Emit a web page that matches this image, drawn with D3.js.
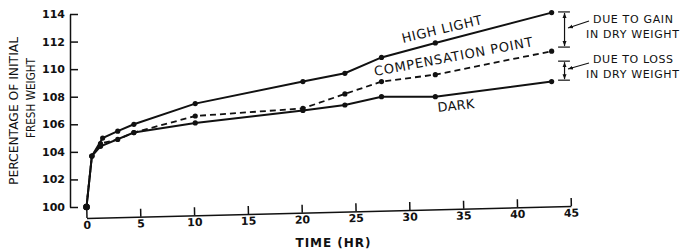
<html lang="en">
<head>
  <meta http-equiv="Content-Type" content="text/html; charset=UTF-8">
  <title>Fresh weight</title>
  <script type="text/javascript" src="https://cdn.jsdelivr.net/npm/d3@7"></script>
  <style type="text/css">
    body { margin: 0; background: #fff; }
    text { font-family: "DejaVu Sans", sans-serif; fill: #111; }
  </style>
</head>
<body>
  <script type="text/javascript">
    // values (hours, % of initial fresh weight)
    var hours_high = [0, 0.5, 1.5, 2.9, 4.4, 10.1, 20.1, 24, 27.4, 32.4, 43.2];
    var high_light = [100, 103.7, 105.0, 105.5, 106.0, 107.5, 109.1, 109.7, 110.85, 111.9, 114.1];
    var hours_comp = [0, 0.5, 1.3, 2.9, 4.4, 10.1, 20.1, 24, 27.4, 32.4, 43.2];
    var compensation = [100, 103.7, 104.6, 104.9, 105.4, 106.6, 107.15, 108.2, 109.1, 109.6, 111.3];
    var hours_dark = [0, 0.5, 1.3, 4.4, 10.1, 20.1, 24, 27.4, 32.4, 43.2];
    var dark = [100, 103.7, 104.4, 105.4, 106.1, 107.0, 107.4, 108.0, 108.0, 109.1];
    var x_ticks = [0, 5, 10, 15, 20, 25, 30, 35, 40, 45];
    var y_ticks = [100, 102, 104, 106, 108, 110, 112, 114];

    var svg = d3.select("body").append("svg").attr("width", 682).attr("height", 250);

    var x = d3.scaleLinear().domain([0, 45]).range([86.5, 571]);
    var y = d3.scaleLinear().domain([100, 114]).range([207, 14]);

    var defs = svg.append("defs");
    defs.append("marker").attr("id", "arr")
      .attr("viewBox", "0 0 10 10").attr("refX", 10).attr("refY", 5)
      .attr("markerWidth", 5).attr("markerHeight", 5)
      .attr("markerUnits", "userSpaceOnUse")
      .attr("orient", "auto-start-reverse")
      .append("path").attr("d", "M0,1 L10,5 L0,9 z").attr("fill", "#111");

    // y axis
    var yAxis = svg.append("g").attr("transform", "translate(70,0)")
      .call(d3.axisLeft(y).tickValues(y_ticks).tickSizeInner(-8).tickSizeOuter(0).tickPadding(5));
    yAxis.selectAll("text").style("font-size", "11px").style("font-weight", "bold")
      .style("font-family", "DejaVu Sans");

    // x axis (slightly tilted like the scan)
    var xAxis = svg.append("g").attr("transform", "translate(0,218) rotate(-1.42 86.5 0)")
      .call(d3.axisBottom(x).tickValues(x_ticks).tickSizeInner(-8).tickSizeOuter(0).tickPadding(3));
    xAxis.selectAll("text").style("font-size", "11px").style("font-weight", "bold")
      .style("font-family", "DejaVu Sans");
    svg.selectAll(".domain, .tick line").attr("stroke", "#111").attr("stroke-width", 1.5);

    function drawSeries(hours, vals, dash) {
      var pts = hours.map(function(h, i) { return [h, vals[i]]; });
      var line = d3.line()
        .x(function(d) { return x(d[0]); })
        .y(function(d) { return y(d[1]); });
      svg.append("path")
        .attr("d", line(pts))
        .attr("fill", "none")
        .attr("stroke", "#111")
        .attr("stroke-width", dash ? 1.8 : 2)
        .attr("stroke-dasharray", dash ? "6,4" : null);
      svg.selectAll(null).data(pts).enter().append("circle")
        .attr("cx", function(d) { return x(d[0]); })
        .attr("cy", function(d) { return y(d[1]); })
        .attr("r", function(d, i) { return i == 0 ? 3.2 : 2.6; })
        .attr("fill", "#111");
    }
    drawSeries(hours_dark, dark, false);
    drawSeries(hours_comp, compensation, true);
    drawSeries(hours_high, high_light, false);

    // series labels
    function label(txt, px, py, ang, len, size) {
      svg.append("text").text(txt)
        .attr("transform", "translate(" + px + "," + py + ") rotate(" + ang + ")")
        .attr("textLength", len).attr("lengthAdjust", "spacing")
        .style("font-size", size + "px");
    }
    label("HIGH LIGHT", 403, 43, -13.4, 82, 13);
    label("COMPENSATION POINT", 375, 76, -10.7, 161, 13);
    label("DARK", 438, 112, -6, 37, 13);

    // brackets on the right
    function bracket(v1, v2) {
      svg.append("line")
        .attr("x1", x(44.4)).attr("x2", x(44.4))
        .attr("y1", y(v1) + 1).attr("y2", y(v2) - 1)
        .attr("stroke", "#111").attr("stroke-width", 1.2)
        .attr("marker-start", "url(#arr)").attr("marker-end", "url(#arr)");
      [v1, v2].forEach(function(v) {
        svg.append("line")
          .attr("x1", x(43.8)).attr("x2", x(44.9))
          .attr("y1", y(v)).attr("y2", y(v))
          .attr("stroke", "#111").attr("stroke-width", 1.2);
      });
    }
    bracket(114.15, 111.6);
    bracket(110.58, 109.2);

    function leader(x1, y1, x2, y2) {
      svg.append("line").attr("x1", x1).attr("y1", y1).attr("x2", x2).attr("y2", y2)
        .attr("stroke", "#111").attr("stroke-width", 1.1).attr("marker-end", "url(#arr)");
    }
    leader(589, 21, 568, 28);
    leader(589, 63, 568, 69);

    function note(txt, px, py, len) {
      svg.append("text").text(txt).attr("x", px).attr("y", py)
        .attr("textLength", len).attr("lengthAdjust", "spacing")
        .style("font-size", "11px");
    }
    note("DUE TO GAIN", 593, 23, 80);
    note("IN DRY WEIGHT", 586, 38, 93);
    note("DUE TO LOSS", 593, 63, 80);
    note("IN DRY WEIGHT", 586, 78, 93);

    // axis titles
    svg.append("text").text("PERCENTAGE OF INITIAL")
      .attr("transform", "translate(18,111) rotate(-90)")
      .attr("text-anchor", "middle")
      .attr("textLength", 148).attr("lengthAdjust", "spacingAndGlyphs")
      .style("font-size", "11.5px");
    svg.append("text").text("FRESH WEIGHT")
      .attr("transform", "translate(35,98) rotate(-90)")
      .attr("text-anchor", "middle")
      .attr("textLength", 80).attr("lengthAdjust", "spacingAndGlyphs")
      .style("font-size", "11.5px");
    svg.append("text").text("TIME (HR)")
      .attr("x", 333).attr("y", 247)
      .attr("text-anchor", "middle")
      .attr("textLength", 75).attr("lengthAdjust", "spacing")
      .style("font-size", "12px").style("font-weight", "bold");
  </script>
</body>
</html>
